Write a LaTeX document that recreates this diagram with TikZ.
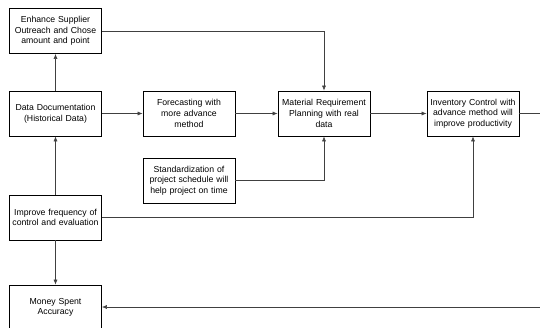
\documentclass[tikz,border=0pt]{standalone}
\usepackage{fontspec}
\setmainfont{Liberation Sans}
\usetikzlibrary{arrows.meta}
\begin{document}
\begin{tikzpicture}[x=1pt,y=-1pt,
  box/.style={draw=black,line width=0.7pt,minimum width=91pt,minimum height=45pt,text width=92pt,align=center,inner sep=0pt,font=\fontsize{8.7}{10.7}\selectfont},
  conn/.style={draw=black!75,line width=0.6pt,-{Latex[length=5pt,width=4pt]}},
  plain/.style={draw=black!75,line width=0.6pt}]
\useasboundingbox (0,0) rectangle (540,327);
\node[box] (enh) at (55.5,31) {Enhance Supplier\\Outreach and Chose\\amount and point};
\node[box] (data) at (55.5,113.5) {Data Documentation\\(Historical Data)};
\node[box] (fore) at (189,113.5) {Forecasting with\\more advance\\method};
\node[box] (mrp) at (324,113.5) {Material Requirement\\Planning with real\\data};
\node[box] (inv) at (473,113.5) {Inventory Control with\\advance method will\\improve productivity};
\node[box] (std) at (189,180.5) {Standardization of\\project schedule will\\help project on time};
\node[box] (imp) at (55.5,217.5) {Improve frequency of\\control and evaluation};
\node[box] (money) at (55.5,307.5) {Money Spent\\Accuracy};
\coordinate (r1) at (541,113.5);
\coordinate (r2) at (541,307);
\draw[conn] (data) -- (fore);
\draw[conn] (fore) -- (mrp);
\draw[conn] (mrp) -- (inv);
\draw[plain] (inv) -- (r1);
\draw[conn] (data) -- (enh);
\draw[conn] (imp) -- (data);
\draw[conn] (imp) -- (money);
\draw[conn] (enh.east) -| (mrp.north);
\draw[conn] (std.east) -| (mrp.south);
\draw[conn] (imp.east) -| (inv.south);
\draw[conn] (r2) -- (money.east |- r2);
\end{tikzpicture}
\end{document}
